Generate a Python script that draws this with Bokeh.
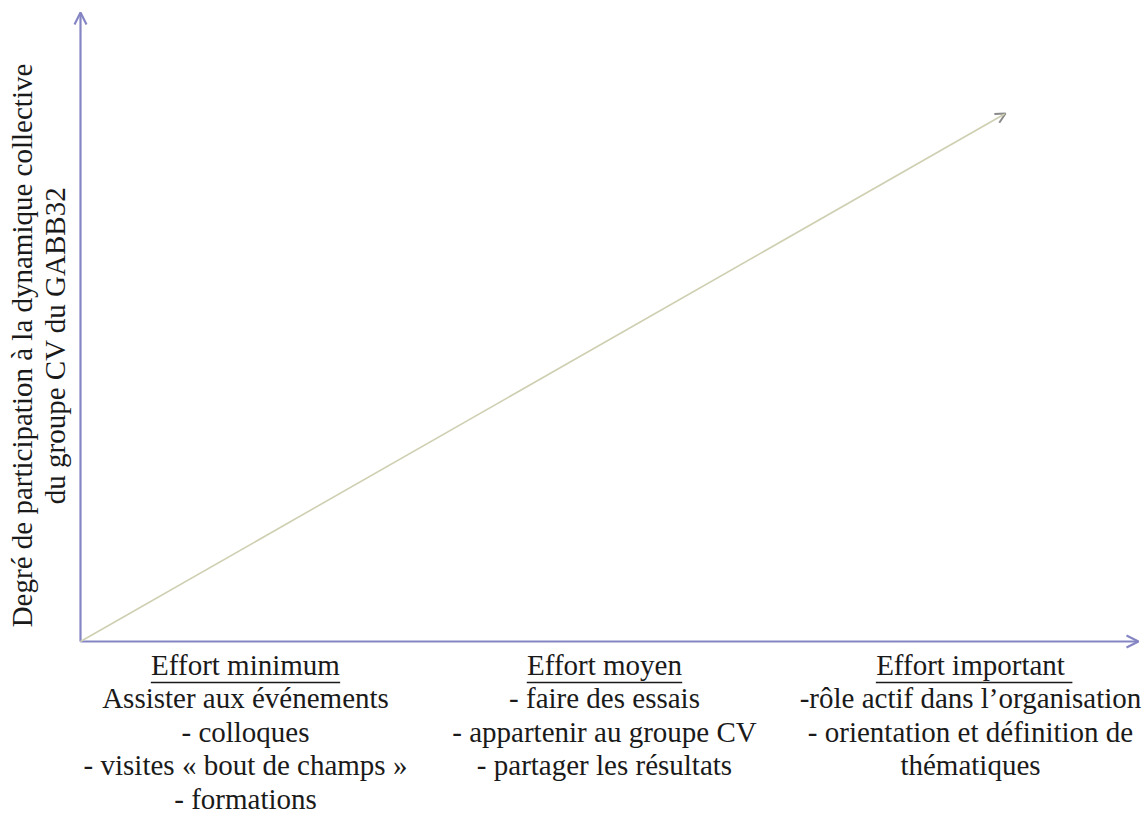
import math
from bokeh.plotting import figure
from bokeh.models import Range1d, Arrow, OpenHead
from bokeh.core.properties import value
from bokeh.embed import file_html
from bokeh.resources import INLINE

# ---- data (diagram content) ----
effort_levels = ["Effort minimum", "Effort moyen", "Effort important"]
effort_pos = [165, 524, 890]            # position of each effort level along the effort axis
effort_details = [
    ["Assister aux événements", "- colloques", "- visites « bout de champs »", "- formations"],
    ["- faire des essais", "- appartenir au groupe CV", "- partager les résultats"],
    ["-rôle actif dans l’organisation", "- orientation et définition de", "thématiques"],
]
y_label_lines = ["Degré de participation à la dynamique collective",
                 "du groupe CV du GABB32"]
trend_x = [0, 925]
trend_y = [0, 528]
effort_axis_max = 1058
participation_axis_max = 629

# ---- style ----
FONT = value("Liberation Serif")
FS_PX = 29
FS = f"{FS_PX}px"
TXT = "#1a1a1a"
AXIS = "#8585c4"
LINE_STEP = 33.5
HEAD_Y = -23          # anchor of heading row
UNDERLINE_Y = -41
head_em = [6.528, 5.36, 6.527]     # heading widths in em (Times metrics)
trail_em = [0.0, 0.0, 0.25]        # underlined trailing space

p = figure(width=1148, height=818,
           x_range=Range1d(-80, 1068), y_range=Range1d(-177, 641),
           x_axis_type=None, y_axis_type=None,
           toolbar_location=None, output_backend="svg", min_border=0)
p.grid.visible = False
p.outline_line_color = None
p.background_fill_color = "white"
p.border_fill_color = "white"

# axes as arrows
p.add_layout(Arrow(x_start=0, y_start=0, x_end=0, y_end=participation_axis_max,
                   line_color=AXIS, line_width=2.2,
                   end=OpenHead(size=12, line_color=AXIS, line_width=2.2)))
p.add_layout(Arrow(x_start=0, y_start=0, x_end=effort_axis_max, y_end=0,
                   line_color=AXIS, line_width=2.2,
                   end=OpenHead(size=12, line_color=AXIS, line_width=2.2)))

# trend arrow
p.add_layout(Arrow(x_start=trend_x[0], y_start=trend_y[0], x_end=trend_x[1], y_end=trend_y[1],
                   line_color="#cfcfb2", line_width=1.6,
                   end=OpenHead(size=10, line_color="#8a8a8a", line_width=2)))

# headings
p.text(x=effort_pos, y=[HEAD_Y] * 3, text=effort_levels,
       text_font=FONT, text_font_size=FS, text_color=TXT,
       text_align="center", text_baseline="alphabetic")

ul_x0 = [c - e * FS_PX / 2 for c, e in zip(effort_pos, head_em)]
ul_x1 = [c + e * FS_PX / 2 + t * FS_PX for c, e, t in zip(effort_pos, head_em, trail_em)]
p.segment(x0=ul_x0, y0=[UNDERLINE_Y] * 3, x1=ul_x1, y1=[UNDERLINE_Y] * 3,
          line_color=TXT, line_width=1.5)

# detail lines
xs, ys, ts = [], [], []
for c, lines in zip(effort_pos, effort_details):
    for k, t in enumerate(lines):
        xs.append(c)
        ys.append(HEAD_Y - LINE_STEP * (k + 1))
        ts.append(t)
p.text(x=xs, y=ys, text=ts, text_font=FONT, text_font_size=FS, text_color=TXT,
       text_align="center", text_baseline="alphabetic")

# y label (rotated)
p.text(x=[-59, -26], y=[296, 296], text=y_label_lines, angle=math.pi / 2,
       text_font=FONT, text_font_size=FS, text_color=TXT,
       text_align="center", text_baseline="alphabetic")

open("out.html", "w").write(file_html(p, INLINE))
